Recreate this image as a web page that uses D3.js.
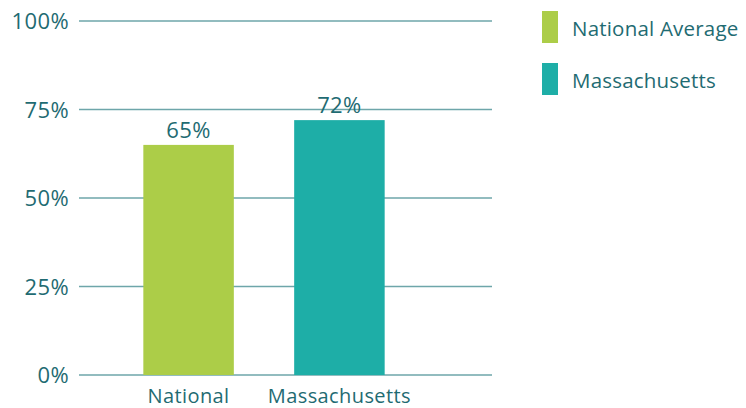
<!DOCTYPE html>
<html>
<head>
<meta charset="utf-8">
<script src="https://cdn.jsdelivr.net/npm/d3@7"></script>
<style>
  body { margin: 0; background: #fff; }
  text { font-family: "Open Sans", sans-serif; font-weight: 400; fill: #1f6b72; letter-spacing: 0.4px; }
</style>
</head>
<body>
<div id="chart"></div>
<script>
// data
const categories = ["National", "Massachusetts"];
const values = [65, 72];
const legendLabels = ["National Average", "Massachusetts"];
const yTicks = [0, 25, 50, 75, 100];
const colors = ["#accd48", "#1eaea7"];

const width = 746, height = 408;
const gridLeft = 79, gridRight = 492;

const svg = d3.select("#chart").append("svg")
    .attr("width", width)
    .attr("height", height);

const y = d3.scaleLinear().domain([0, 100]).range([375, 21]);
const x = d3.scaleBand().domain(categories).range([83, 445])
    .paddingInner(0.4).paddingOuter(0.4);

// gridlines + y labels
const grid = svg.append("g");
grid.selectAll("line")
    .data(yTicks)
    .join("line")
    .attr("x1", gridLeft).attr("x2", gridRight)
    .attr("y1", d => y(d)).attr("y2", d => y(d))
    .attr("stroke", "#6ea6aa")
    .attr("stroke-width", 1.5);

grid.selectAll("text")
    .data(yTicks)
    .join("text")
    .attr("x", 69)
    .attr("y", d => y(d) + 8)
    .attr("text-anchor", "end")
    .attr("font-size", 22)
    .text(d => d + "%");

// bars
svg.append("g").selectAll("rect")
    .data(values)
    .join("rect")
    .attr("x", (d, i) => x(categories[i]))
    .attr("y", d => y(d))
    .attr("width", x.bandwidth())
    .attr("height", d => y(0) - y(d))
    .attr("fill", (d, i) => colors[i]);

// value labels
svg.append("g").selectAll("text")
    .data(values)
    .join("text")
    .attr("x", (d, i) => x(categories[i]) + x.bandwidth() / 2)
    .attr("y", d => y(d) - 7)
    .attr("text-anchor", "middle")
    .attr("font-size", 22)
    .text(d => d + "%");

// category labels
svg.append("g").selectAll("text")
    .data(categories)
    .join("text")
    .attr("x", d => x(d) + x.bandwidth() / 2)
    .attr("y", 403)
    .attr("text-anchor", "middle")
    .attr("font-size", 20)
    .text(d => d);

// legend
const legend = svg.append("g").attr("transform", "translate(542,11)");
const items = legend.selectAll("g")
    .data(legendLabels)
    .join("g")
    .attr("transform", (d, i) => `translate(0,${i * 52})`);
items.append("rect")
    .attr("width", 16).attr("height", 32)
    .attr("fill", (d, i) => colors[i]);
items.append("text")
    .attr("x", 30).attr("y", 25)
    .attr("font-size", 20.5)
    .style("letter-spacing", "0.2px")
    .text(d => d);
</script>
</body>
</html>
